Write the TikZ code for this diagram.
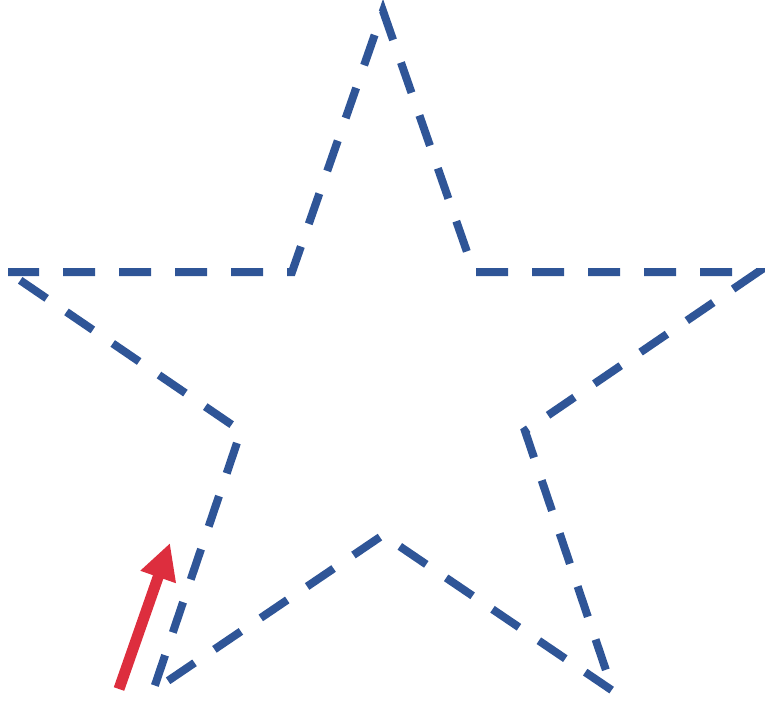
\documentclass[tikz,border=0pt]{standalone}
\usetikzlibrary{arrows.meta}
\definecolor{starblue}{RGB}{47,85,151}
\definecolor{arrowred}{RGB}{221,46,62}
\tikzset{
  starline/.style={draw=starblue, line width=8pt, dash pattern=on 32pt off 24pt, dash phase=1pt, miter limit=10},
  redarrow/.style={draw=arrowred, line width=11pt, -{Triangle[length=36pt,width=35pt]}}
}
\begin{document}
\begin{tikzpicture}[x=1pt,y=-1pt]
\useasboundingbox (0,0) rectangle (765,702);
\coordinate (p3) at (8,272);
\coordinate (p4) at (292,272);
\coordinate (p5) at (383,11);
\coordinate (p6) at (474,272);
\coordinate (p7) at (758,272);
\coordinate (p8) at (525,431);
\coordinate (p9) at (613,691);
\coordinate (p10) at (383,535);
\coordinate (p1) at (153,691);
\coordinate (p2) at (241,431);
\draw[starline] (p3) -- (p4) -- (p5) -- (p6) -- (p7) -- (p8) -- (p9) -- (p10) -- (p1) -- (p2) -- (p3);
\coordinate (a1) at (119,689);
\coordinate (a2) at (170,543);
\draw[redarrow] (a1) -- (a2);
\end{tikzpicture}
\end{document}
